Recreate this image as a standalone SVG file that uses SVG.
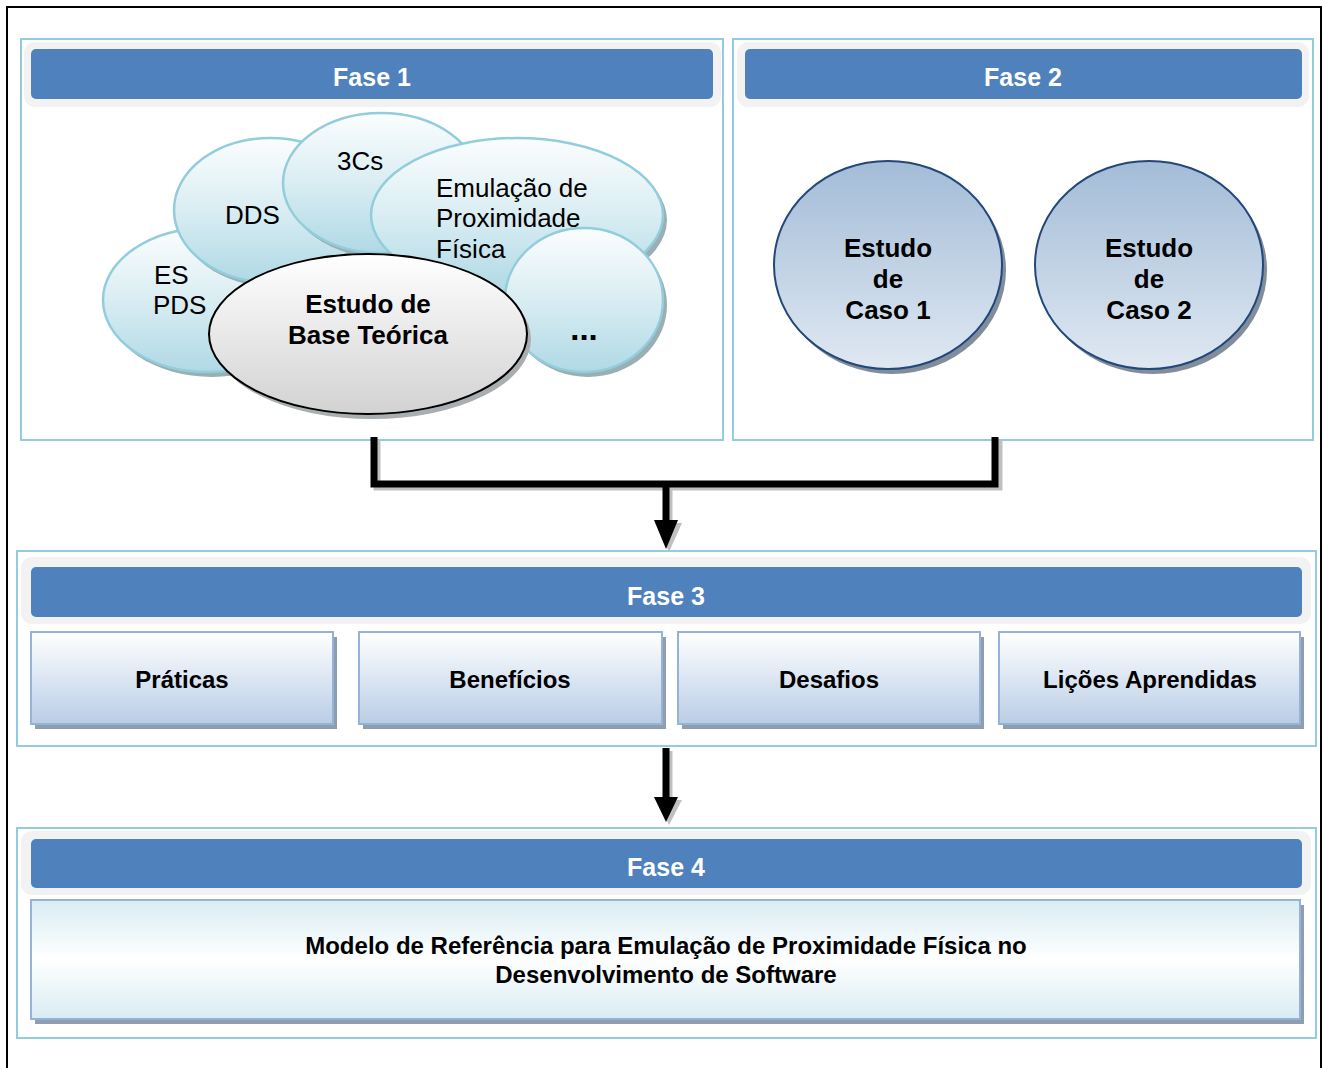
<svg xmlns="http://www.w3.org/2000/svg" width="1323" height="1068" viewBox="0 0 1323 1068">
  <defs>
    <linearGradient id="gCloud" x1="0" y1="0" x2="0" y2="1">
      <stop offset="0" stop-color="#fbfdfe"/>
      <stop offset="0.45" stop-color="#ddeff4"/>
      <stop offset="1" stop-color="#b0d9e5"/>
    </linearGradient>
    <linearGradient id="gBase" x1="0" y1="0" x2="0" y2="1">
      <stop offset="0" stop-color="#ffffff"/>
      <stop offset="1" stop-color="#d2d2d2"/>
    </linearGradient>
    <linearGradient id="gCase" x1="0" y1="0" x2="0" y2="1">
      <stop offset="0" stop-color="#a3bcd7"/>
      <stop offset="1" stop-color="#dfe8f2"/>
    </linearGradient>
    <linearGradient id="gBox" x1="0" y1="0" x2="0" y2="1">
      <stop offset="0" stop-color="#ffffff"/>
      <stop offset="1" stop-color="#b9cde6"/>
    </linearGradient>
    <linearGradient id="gModel" x1="0" y1="0" x2="0" y2="1">
      <stop offset="0" stop-color="#d9ecf3"/>
      <stop offset="0.5" stop-color="#ffffff"/>
      <stop offset="1" stop-color="#d9ecf3"/>
    </linearGradient>
  </defs>
  <style>
    .frame { fill: none; stroke: #000; stroke-width: 2; }
    .panel { fill: #fff; stroke: #93cddd; stroke-width: 2; }
    .band { fill: #f2f2f2; }
    .head { fill: #4f81bd; }
    .headtxt { font-family: "Liberation Sans", Arial, sans-serif; font-weight: bold; font-size: 25px; fill: #fff; text-anchor: middle; }
    .cloud { fill: url(#gCloud); stroke: #92cddc; stroke-width: 2.5; }
    .cloudsh { fill: #9aafb5; }
    .ctxt { font-family: "Liberation Sans", Arial, sans-serif; font-size: 26px; fill: #000; }
    .btxt { font-family: "Liberation Sans", Arial, sans-serif; font-weight: bold; fill: #000; text-anchor: middle; }
    .case { fill: url(#gCase); stroke: #23477a; stroke-width: 2; }
    .casesh { fill: #808d9b; }
    .box { fill: url(#gBox); stroke: #95b3d7; stroke-width: 2; }
    .boxsh { fill: #8f9db0; }
    .wire { fill: none; stroke: #000; stroke-width: 7; }
    .wiresh { fill: none; stroke: #c0c0c0; stroke-width: 7; }
  </style>

  <!-- page frame -->
  <rect class="frame" x="7" y="7" width="1314" height="1080"/>

  <!-- Fase 1 -->
  <g id="fase1">
    <rect class="panel" x="21" y="39" width="702" height="401"/>
    <rect class="band" x="24" y="42" width="697" height="65" rx="11"/>
    <rect class="head" x="31" y="49" width="682" height="50" rx="5"/>
    <text class="headtxt" x="372" y="86">Fase 1</text>
  </g>

  <g id="cloud-es">
    <ellipse class="cloudsh" cx="212" cy="305" rx="105" ry="72"/>
    <ellipse class="cloud" cx="208" cy="300" rx="105" ry="72"/>
    <text class="ctxt" x="154" y="284">ES</text>
    <text class="ctxt" x="153" y="314">PDS</text>
  </g>
  <g id="cloud-dds">
    <ellipse class="cloudsh" cx="274" cy="215" rx="96" ry="72"/>
    <ellipse class="cloud" cx="270" cy="210" rx="96" ry="72"/>
    <text class="ctxt" x="225" y="224">DDS</text>
  </g>
  <g id="cloud-3cs">
    <ellipse class="cloudsh" cx="385" cy="188" rx="98" ry="70"/>
    <ellipse class="cloud" cx="381" cy="183" rx="98" ry="70"/>
    <text class="ctxt" x="337" y="170">3Cs</text>
  </g>
  <g id="cloud-emulacao">
    <ellipse class="cloudsh" cx="521" cy="220" rx="146" ry="77"/>
    <ellipse class="cloud" cx="517" cy="215" rx="146" ry="77"/>
    <text class="ctxt" x="436" y="197">Emulação de</text>
    <text class="ctxt" x="436" y="227">Proximidade</text>
    <text class="ctxt" x="436" y="258">Física</text>
  </g>
  <g id="cloud-more">
    <ellipse class="cloudsh" cx="588" cy="305" rx="79" ry="72"/>
    <ellipse class="cloud" cx="584" cy="300" rx="79" ry="72"/>
    <text class="btxt" x="584" y="340" font-size="33">...</text>
  </g>
  <g id="base-teorica">
    <ellipse cx="372" cy="339" rx="159" ry="80" fill="#a9aeb0"/>
    <ellipse cx="368" cy="334" rx="159" ry="80" fill="url(#gBase)" stroke="#000" stroke-width="2"/>
    <text class="btxt" x="368" y="313" font-size="26">Estudo de</text>
    <text class="btxt" x="368" y="344" font-size="26">Base Teórica</text>
  </g>

  <!-- Fase 2 -->
  <g id="fase2">
    <rect class="panel" x="733" y="39" width="580" height="401"/>
    <rect class="band" x="737" y="42" width="572" height="65" rx="11"/>
    <rect class="head" x="745" y="49" width="557" height="50" rx="5"/>
    <text class="headtxt" x="1023" y="86">Fase 2</text>
  </g>
  <g id="caso1">
    <ellipse class="casesh" cx="892" cy="270" rx="114" ry="104"/>
    <ellipse class="case" cx="888" cy="265" rx="114" ry="104"/>
    <text class="btxt" x="888" y="257" font-size="26">Estudo</text>
    <text class="btxt" x="888" y="288" font-size="26">de</text>
    <text class="btxt" x="888" y="319" font-size="26">Caso 1</text>
  </g>
  <g id="caso2">
    <ellipse class="casesh" cx="1153" cy="270" rx="114" ry="104"/>
    <ellipse class="case" cx="1149" cy="265" rx="114" ry="104"/>
    <text class="btxt" x="1149" y="257" font-size="26">Estudo</text>
    <text class="btxt" x="1149" y="288" font-size="26">de</text>
    <text class="btxt" x="1149" y="319" font-size="26">Caso 2</text>
  </g>

  <!-- Fase 3 -->
  <g id="fase3">
    <rect class="panel" x="17" y="551" width="1299" height="195"/>
    <rect class="band" x="21" y="557" width="1290" height="67" rx="11"/>
    <rect class="head" x="31" y="567" width="1271" height="50" rx="5"/>
    <text class="headtxt" x="666" y="605">Fase 3</text>
  </g>
  <g id="praticas">
    <rect class="boxsh" x="35" y="637" width="302" height="92"/>
    <rect class="box" x="31" y="632" width="302" height="92"/>
    <text class="btxt" x="182" y="688" font-size="24">Práticas</text>
  </g>
  <g id="beneficios">
    <rect class="boxsh" x="363" y="637" width="303" height="92"/>
    <rect class="box" x="359" y="632" width="303" height="92"/>
    <text class="btxt" x="510" y="688" font-size="24">Benefícios</text>
  </g>
  <g id="desafios">
    <rect class="boxsh" x="682" y="637" width="302" height="92"/>
    <rect class="box" x="678" y="632" width="302" height="92"/>
    <text class="btxt" x="829" y="688" font-size="24">Desafios</text>
  </g>
  <g id="licoes">
    <rect class="boxsh" x="1003" y="637" width="301" height="92"/>
    <rect class="box" x="999" y="632" width="301" height="92"/>
    <text class="btxt" x="1150" y="688" font-size="24">Lições Aprendidas</text>
  </g>

  <!-- Fase 4 -->
  <g id="fase4">
    <rect class="panel" x="17" y="828" width="1299" height="210"/>
    <rect class="band" x="21" y="831" width="1290" height="64" rx="11"/>
    <rect class="head" x="31" y="839" width="1271" height="49" rx="5"/>
    <text class="headtxt" x="666" y="876">Fase 4</text>
  </g>
  <g id="modelo">
    <rect class="boxsh" x="35" y="905" width="1269" height="119"/>
    <rect x="31" y="900" width="1269" height="119" fill="url(#gModel)" stroke="#95b3d7" stroke-width="2"/>
    <text class="btxt" x="666" y="954" font-size="24">Modelo de Referência para Emulação de Proximidade Física no</text>
    <text class="btxt" x="666" y="983" font-size="24">Desenvolvimento de Software</text>
  </g>

  <!-- connectors -->
  <g id="connectors">
    <path class="wiresh" d="M377 440 V487 H999 V440"/>
    <path class="wiresh" d="M669 490 V524"/>
    <polygon points="657,523 682,523 669,552" fill="#c0c0c0"/>
    <path class="wire" d="M374 437 V484 H995 V437"/>
    <path class="wire" d="M666 487 V522"/>
    <polygon points="654,520 678,520 666,549" fill="#000"/>

    <path class="wiresh" d="M669 751 V800"/>
    <polygon points="657,800 682,800 669,825" fill="#c0c0c0"/>
    <path class="wire" d="M666 748 V799"/>
    <polygon points="654,797 678,797 666,822" fill="#000"/>
  </g>
</svg>
